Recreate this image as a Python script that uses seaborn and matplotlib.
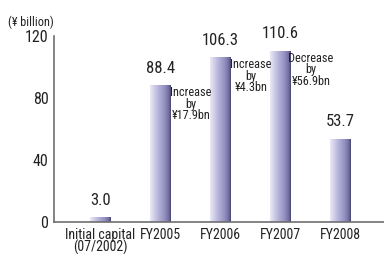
import numpy as np
import pandas as pd
import matplotlib
matplotlib.use("Agg")
import matplotlib.pyplot as plt
from matplotlib.colors import LinearSegmentedColormap
from matplotlib import font_manager
import seaborn as sns

categories = ["Initial capital\n(07/2002)", "FY2005", "FY2006", "FY2007", "FY2008"]
values = [3.0, 88.4, 106.3, 110.6, 53.7]
value_labels = ["3.0", "88.4", "106.3", "110.6", "53.7"]
changes = ["", "Increase\nby\n¥17.9bn", "Increase\nby\n¥4.3bn", "Decrease\nby\n¥56.9bn", ""]
yticks = [0, 40, 80, 120]

sns.set_theme(style="white")
names = {f.name for f in font_manager.fontManager.ttflist}
fam = [n for n in ["Liberation Sans Narrow", "Roboto Condensed", "Open Sans Condensed",
                   "DejaVu Sans"] if n in names] + ["DejaVu Sans"]
plt.rcParams['font.family'] = fam
plt.rcParams['font.stretch'] = 'condensed'

df = pd.DataFrame({"cat": categories, "val": values})

fig = plt.figure(figsize=(3.84, 2.54), dpi=100)
ax = fig.add_axes([54/384, 32/254, 330/384, 186/254])
sns.barplot(data=df, x="cat", y="val", ax=ax, width=0.35, color="#9c9ac6",
            saturation=1, edgecolor="none")

cmap = LinearSegmentedColormap.from_list("bar", [
    (0.0, "#eceaf5"), (0.35, "#bcbadd"), (0.7, "#9390c2"), (0.9, "#716e9e"), (1.0, "#474570")])
grad = np.linspace(0, 1, 256).reshape(1, -1)
for p in ax.patches:
    x0, y0 = p.get_x(), p.get_y()
    w, h = p.get_width(), p.get_height()
    im = ax.imshow(grad, cmap=cmap, aspect="auto", extent=[x0, x0 + w, y0, y0 + h],
                   zorder=p.get_zorder() + 0.1)
    im.set_clip_path(p)

ax.set_xlim(-0.775, 4.73)
ax.set_ylim(0, 120)
ax.set_yticks(yticks)
ax.set_xlabel("")
ax.set_ylabel("")

for s in ["top", "right"]:
    ax.spines[s].set_visible(False)
for s in ["left", "bottom"]:
    ax.spines[s].set_color("#6e6e6e")
    ax.spines[s].set_linewidth(1.2)

ax.tick_params(axis="y", direction="in", length=7, width=1.2, color="#6e6e6e",
               labelsize=11.5, labelcolor="#222222", pad=4)
ax.tick_params(axis="x", length=0, labelsize=10, labelcolor="#222222", pad=4)
for lbl in ax.get_xticklabels():
    lbl.set_linespacing(0.85)

for i, (v, lab) in enumerate(zip(values, value_labels)):
    ax.text(i, v + 6, lab, ha="center", va="bottom", fontsize=12, color="#222222")

for i, (v, c) in enumerate(zip(values, changes)):
    if c:
        ax.text(i + 0.51, v - 0.8, c, ha="center", va="top", fontsize=8.8,
                color="#222222", linespacing=0.85)

fig.text(8/384, 1 - 22/254, "(¥ billion)", ha="left", va="center", fontsize=8.8,
         color="#222222")

fig.savefig("out.png", dpi=100)
